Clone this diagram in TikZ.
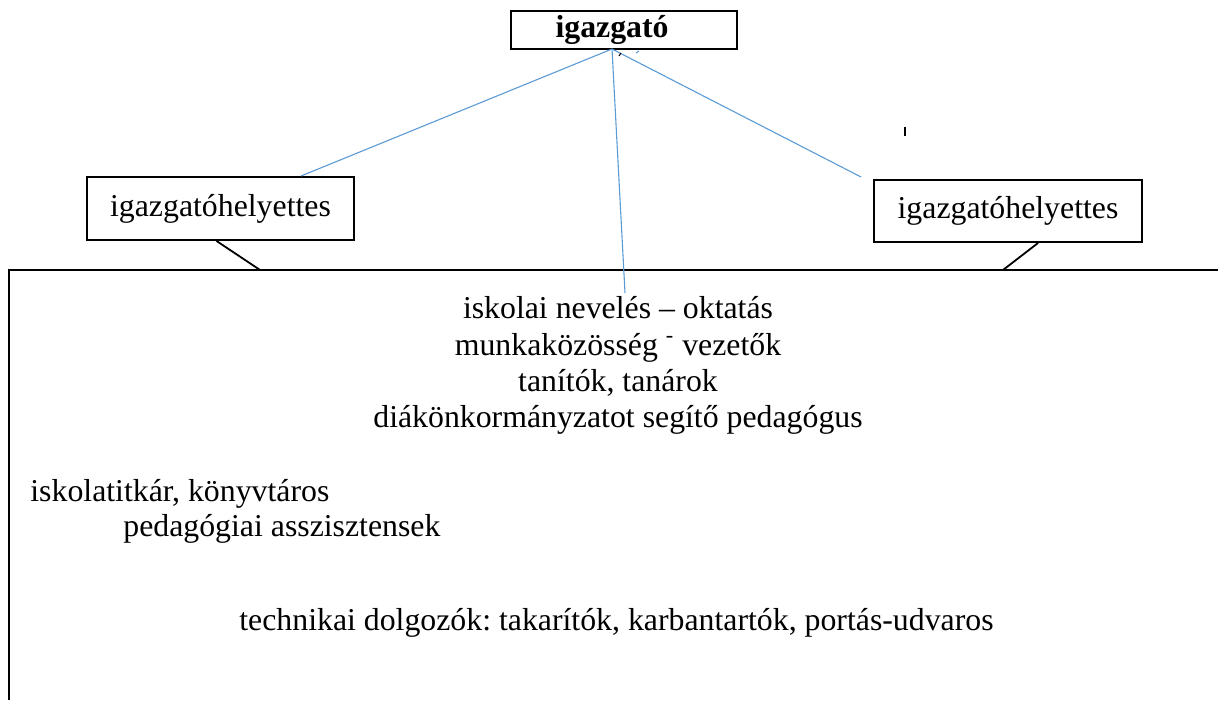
\documentclass[tikz,border=0pt]{standalone}
\usepackage{fontspec}
\setmainfont{Liberation Serif}
\usetikzlibrary{positioning}
\definecolor{wordblue}{RGB}{91,155,213}
\frenchspacing
\tikzset{
  posbox/.style={draw=black,line width=1pt,inner sep=0pt,align=center},
  rowtext/.style={inner sep=0pt,font=\fontsize{15.9}{19}\selectfont},
  blueline/.style={draw=wordblue,line width=0.55pt},
  blackline/.style={draw=black,line width=0.9pt}
}
\begin{document}
\begin{tikzpicture}[x=0.5pt,y=-0.5pt]
	\useasboundingbox (0,0) rectangle (1218,700);
	% boxes
	\node[posbox,minimum width=113pt,minimum height=19pt,text width=68pt,align=left,inner xsep=22.5pt,
	      font=\fontsize{15.9}{19}\selectfont\bfseries] (igazgato) at (623.5,30) {igazgató};
	\node[posbox,minimum width=133.5pt,minimum height=31.5pt,font=\fontsize{15.9}{19}\selectfont] (helyL) at (220.5,208.5) {igazgatóhelyettes};
	\node[posbox,minimum width=134pt,minimum height=31pt,font=\fontsize{15.9}{19}\selectfont] (helyR) at (1008,211) {igazgatóhelyettes};

	% large frame
	\draw[line width=1pt] (9,700) -- (9,270) -- (1218,270);
	\coordinate (hub) at (612,49);
	\coordinate (frameL) at (260,270);
	\coordinate (frameR) at (1003,270);

	% texts in the frame
	\node[rowtext,anchor=base] (sor1) at (618,318) {iskolai nevelés – oktatás};
	\node[rowtext,anchor=base] (sor2) at (618,355) {munkaközösség \textsuperscript{-} vezetők};
	\node[rowtext,anchor=base] (sor3) at (618,391) {tanítók, tanárok};
	\node[rowtext,anchor=base] (sor4) at (618,427) {diákönkormányzatot segítő pedagógus};
	\node[rowtext,anchor=base west] (titkar) at (30,501) {iskolatitkár, könyvtáros};
	\node[rowtext,anchor=base west] (asszisztens) at (123,536) {pedagógiai asszisztensek};
	\node[rowtext,anchor=base west] (technikai) at (239,630) {technikai dolgozók: takarítók, karbantartók, portás-udvaros};
	\coordinate (midend) at (625,293);

	% connectors
	\draw[blueline] (hub) -- ([xshift=-27pt]helyL.north east);
	\draw[blueline] (hub) -- (midend);
	\draw[blueline] (hub) -- ([xshift=-6pt,yshift=1pt]helyR.north west);
	\draw[blackline] ([xshift=-2pt]helyL.south) -- (frameL);
	\draw[blackline] ([xshift=15pt]helyR.south) -- (frameR);

	% stray marks
	\draw[line width=0.6pt] (905,127) -- (905,136);
	\draw[line width=0.5pt] (619,56) -- (621,53);
	\draw[wordblue,line width=0.5pt] (636,53) -- (639,51);
\end{tikzpicture}
\end{document}
